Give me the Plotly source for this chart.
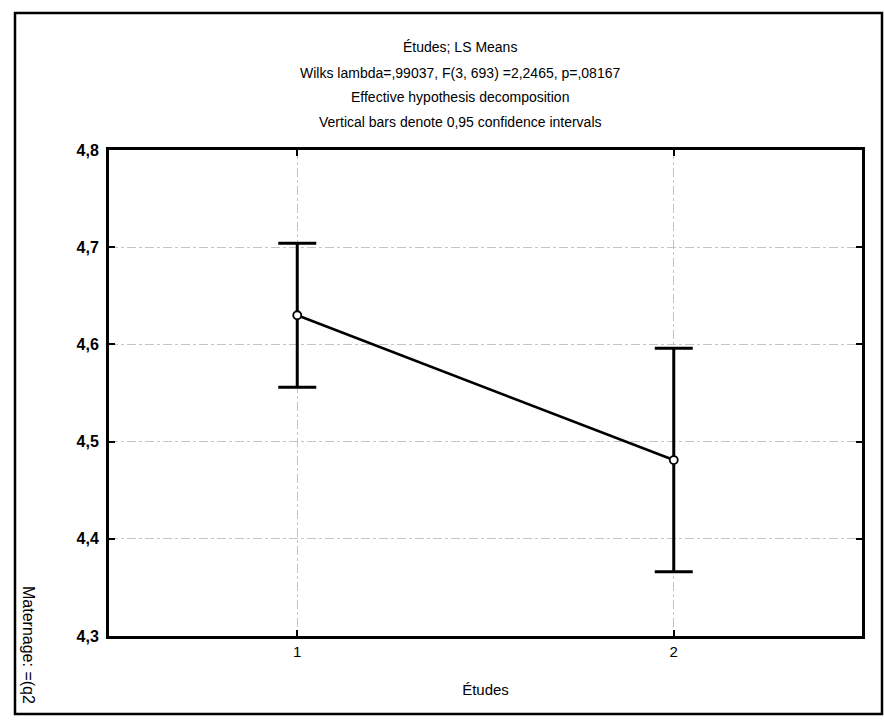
import plotly.graph_objects as go

# LS means of the dependent variable by level of "Études", with 95% CI half-widths
categories = [1, 2]
ls_means = [4.630, 4.481]
ci_half = [0.074, 0.115]

y_ticks = [4.3, 4.4, 4.5, 4.6, 4.7, 4.8]

title_lines = [
    "Études; LS Means",
    "Wilks lambda=,99037, F(3, 693) =2,2465, p=,08167",
    "Effective hypothesis decomposition",
    "Vertical bars denote 0,95 confidence intervals",
]

W, H = 884, 723
L, R, T, B = 109, 22, 150, 87
PW, PH = W - L - R, H - T - B


def px_x(x):
    return (x - L) / PW


def px_y(y):
    return (H - B - y) / PH


FONT = "Liberation Sans, Arial, sans-serif"

fig = go.Figure()
fig.add_trace(go.Scatter(
    x=categories,
    y=ls_means,
    mode="lines+markers",
    line=dict(color="black", width=2.6),
    marker=dict(symbol="circle", size=8, color="white",
                line=dict(color="black", width=1.8)),
    error_y=dict(type="data", array=ci_half, visible=True,
                 color="black", thickness=3, width=19),
    showlegend=False,
))

annotations = []
for txt, yy in zip(title_lines, [47, 73, 97, 122]):
    annotations.append(dict(
        text=txt, xref="paper", yref="paper", x=px_x(460), y=px_y(yy),
        showarrow=False, xanchor="center", yanchor="middle",
        font=dict(family=FONT, size=14, color="black"),
    ))
annotations.append(dict(
    text="Maternage: =(q2", xref="paper", yref="paper",
    x=px_x(29), y=px_y(645), textangle=90, showarrow=False,
    xanchor="center", yanchor="middle",
    font=dict(family=FONT, size=16, color="black"),
))

fig.update_layout(
    width=W, height=H,
    margin=dict(l=L, r=R, t=T, b=B, autoexpand=False),
    paper_bgcolor="white", plot_bgcolor="white",
    separators=", ",
    annotations=annotations,
    shapes=[dict(type="rect", xref="paper", yref="paper",
                 x0=px_x(15), x1=px_x(882), y0=px_y(714), y1=px_y(13),
                 line=dict(color="black", width=2.5), layer="below")],
    xaxis=dict(
        range=[0.5, 2.5], tickvals=categories, ticktext=[str(c) for c in categories],
        showline=True, linecolor="black", linewidth=3, mirror="allticks",
        ticks="inside", ticklen=6, tickwidth=2, tickcolor="black",
        showgrid=True, gridcolor="#c4c4c4", gridwidth=1, griddash="dashdot",
        zeroline=False,
        tickfont=dict(family=FONT, size=15, color="black"),
        title=dict(text="Études", font=dict(family=FONT, size=15, color="black"),
                   standoff=26),
    ),
    yaxis=dict(
        range=[4.3, 4.8], tickvals=y_ticks, tickformat=".1f",
        showline=True, linecolor="black", linewidth=3, mirror="allticks",
        ticks="inside", ticklen=6, tickwidth=2, tickcolor="black",
        showgrid=True, gridcolor="#c4c4c4", gridwidth=1, griddash="dashdot",
        zeroline=False,
        tickfont=dict(family=FONT, size=16, color="black", weight="bold"),
        ticklabelstandoff=4,
    ),
)

fig.write_html("out.html")
